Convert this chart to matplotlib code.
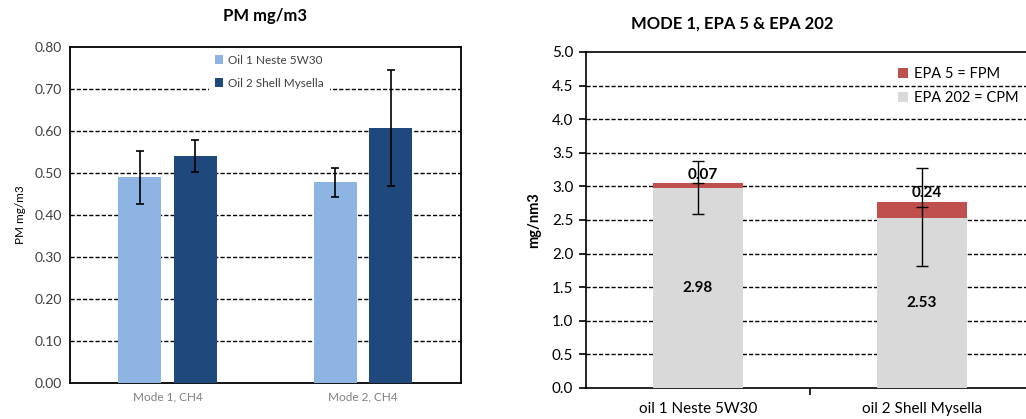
import numpy as np
import matplotlib
matplotlib.use("Agg")
import matplotlib.pyplot as plt

plt.rcParams['font.family'] = ['Lato', 'DejaVu Sans']

# left chart data
modes = ['Mode 1, CH4', 'Mode 2, CH4']
oil1_pm = [0.490, 0.478]
oil1_err = [0.063, 0.035]
oil2_pm = [0.541, 0.607]
oil2_err = [0.038, 0.138]
left_labels = ['Oil 1 Neste 5W30', 'Oil 2 Shell Mysella']

# right chart data
oils = ['oil 1 Neste 5W30', 'oil 2 Shell Mysella']
cpm = [2.98, 2.53]
fpm = [0.07, 0.24]
err_mid = [3.05, 2.70]
err_low = [0.46, 0.89]
err_high = [0.33, 0.58]
right_labels = ['EPA 5 = FPM', 'EPA 202 = CPM']

light_blue = '#8DB4E2'
dark_blue = '#1F497D'
red = '#C0504D'
grey = '#D9D9D9'

fig = plt.figure(figsize=(10.26, 4.19), dpi=100)

# ---- left panel ----
ax1 = fig.add_axes([0.0682, 0.0859, 0.381, 0.802])
x = np.arange(len(modes))
w = 0.22
ax1.bar(x - 0.142, oil1_pm, w, color=light_blue, label=left_labels[0], zorder=3)
ax1.bar(x + 0.142, oil2_pm, w, color=dark_blue, label=left_labels[1], zorder=3)
ax1.errorbar(x - 0.142, oil1_pm, yerr=oil1_err, fmt='none', ecolor='black',
             elinewidth=1.2, capsize=3, capthick=1.2, zorder=4)
ax1.errorbar(x + 0.142, oil2_pm, yerr=oil2_err, fmt='none', ecolor='black',
             elinewidth=1.2, capsize=3, capthick=1.2, zorder=4)
ax1.set_xlim(-0.5, 1.5)
ax1.set_ylim(0, 0.8)
ax1.set_yticks(np.arange(0, 0.81, 0.1))
ax1.set_yticklabels(['%.2f' % v for v in np.arange(0, 0.81, 0.1)])
ax1.set_xticks(x)
ax1.set_xticklabels(modes, color='#7F7F7F', fontsize=8.5)
ax1.tick_params(axis='both', length=0, pad=6)
ax1.tick_params(axis='y', labelsize=10, labelcolor='#404040')
for v in np.arange(0.1, 0.75, 0.1):
    ax1.axhline(v, color='black', linestyle=(0, (3, 1.5)), linewidth=1, zorder=1)
for s in ax1.spines.values():
    s.set_linewidth(1.3)
    s.set_color('black')
ax1.set_ylabel('PM mg/m3', fontsize=8.5, labelpad=6)
ax1.set_title('PM mg/m3', fontsize=12, fontweight='bold', pad=19)
leg1 = ax1.legend(loc='upper center', bbox_to_anchor=(0.51, 1.012), fontsize=8.5,
                  frameon=True, handlelength=0.7, handleheight=0.7, handletextpad=0.4,
                  labelspacing=1.0, borderpad=0.5)
leg1.get_frame().set_facecolor('white')
leg1.get_frame().set_edgecolor('none')
leg1.get_frame().set_alpha(1)
leg1.set_zorder(5)
for t in leg1.get_texts():
    t.set_color('#404040')

# ---- right panel ----
ax2 = fig.add_axes([0.571, 0.074, 0.4366, 0.802])
xr = np.arange(len(oils))
wr = 0.40
ax2.bar(xr, cpm, wr, color=grey, label=right_labels[1], zorder=3)
ax2.bar(xr, fpm, wr, bottom=cpm, color=red, label=right_labels[0], zorder=3)
ax2.errorbar(xr, err_mid, yerr=[err_low, err_high], fmt='_', color='black',
             markersize=8, elinewidth=1, capsize=4, capthick=1, zorder=4)
for i in range(len(oils)):
    ax2.text(xr[i], cpm[i] / 2, '%.2f' % cpm[i], ha='center', va='center',
             fontsize=11, fontweight='bold', zorder=5)
    ax2.text(xr[i] + 0.02, cpm[i] + fpm[i] + 0.02, '%.2f' % fpm[i], ha='center',
             va='bottom', fontsize=11, fontweight='bold', zorder=5)
ax2.set_xlim(-0.5, 1.5)
ax2.set_ylim(0, 5)
ax2.set_yticks(np.arange(0, 5.01, 0.5))
ax2.set_yticklabels(['%.1f' % v for v in np.arange(0, 5.01, 0.5)])
ax2.tick_params(axis='y', labelsize=11, length=5, width=1.2, direction='out', pad=4)
ax2.set_xticks([0.5], minor=False)
ax2.set_xticklabels([''])
ax2.tick_params(axis='x', length=5, width=1.2, direction='out')
ax2.set_xticks(xr, minor=True)
ax2.set_xticklabels(oils, minor=True, fontsize=11)
ax2.tick_params(axis='x', which='minor', length=0, pad=10)
for v in np.arange(0.5, 4.6, 0.5):
    ax2.axhline(v, color='black', linestyle=(0, (3, 1.5)), linewidth=1, zorder=1)
for s in ax2.spines.values():
    s.set_linewidth(1.2)
    s.set_color('black')
ax2.set_ylabel('mg/nm3', fontsize=10.5, fontweight='bold', labelpad=8)
fig.text(0.714, 0.943, 'MODE 1, EPA 5 & EPA 202', ha='center', va='center',
         fontsize=12, fontweight='bold')
h, l = ax2.get_legend_handles_labels()
leg2 = ax2.legend(h[::-1], l[::-1], loc='upper right', bbox_to_anchor=(0.995, 0.995),
                  fontsize=10.5, frameon=False, handlelength=0.7, handleheight=0.7,
                  handletextpad=0.4, labelspacing=0.7)

fig.savefig('out.png', dpi=100)
